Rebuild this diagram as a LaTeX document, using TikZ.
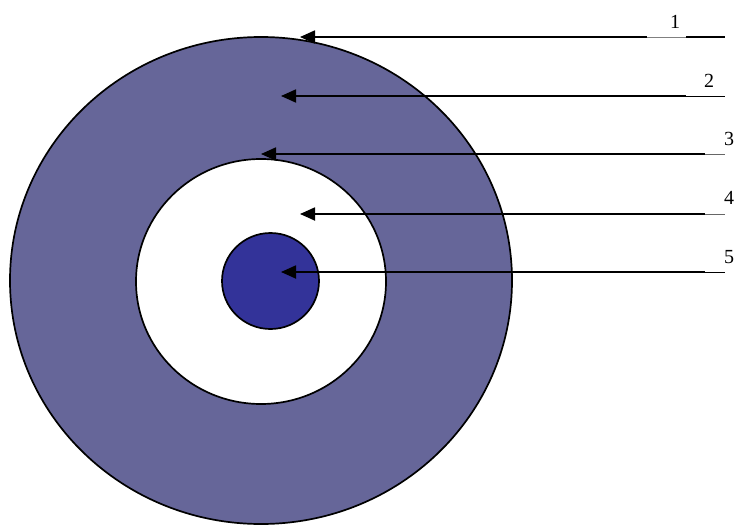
\documentclass[tikz,border=0pt]{standalone}
\usepackage{fontspec}
\setmainfont{Liberation Serif}
\usetikzlibrary{arrows.meta}
\definecolor{outerc}{HTML}{666699}
\definecolor{corec}{HTML}{333399}
\begin{document}
\begin{tikzpicture}[x=1pt,y=-1pt,
  ring/.style={draw=black,line width=1.7pt},
  pointer/.style={line width=1.8pt,-{Triangle[length=15pt,width=13pt]}},
  leader/.style={line width=0.9pt},
  numlabel/.style={font=\fontsize{20}{20}\selectfont,inner sep=0pt,anchor=base}]
\useasboundingbox (0,0) rectangle (734,525);
\fill[outerc,ring] (261,280.5) ellipse [x radius=251,y radius=243.5];
\fill[white,ring] (261,281.5) ellipse [x radius=125,y radius=122.5];
\fill[corec,ring] (270.5,281) ellipse [x radius=48.5,y radius=48];
% coordinates
\coordinate (s1) at (647,37);   \coordinate (t1) at (300,37);
\coordinate (s2) at (686,96);   \coordinate (t2) at (281,96);
\coordinate (s3) at (705,154);  \coordinate (t3) at (261,154);
\coordinate (s4) at (705,214);  \coordinate (t4) at (300,214);
\coordinate (s5) at (705,272);  \coordinate (t5) at (281,272);
\coordinate (m1) at (686,37);   \coordinate (e1) at (725,37);
\coordinate (e2) at (725,96);
\coordinate (e3) at (725,154);
\coordinate (e4) at (725,214);
\coordinate (e5) at (725,272);
\draw[pointer] (s1) -- (t1);
\draw[pointer] (s2) -- (t2);
\draw[pointer] (s3) -- (t3);
\draw[pointer] (s4) -- (t4);
\draw[pointer] (s5) -- (t5);
\draw[leader,gray] (s1) -- (m1);
\draw[line width=1.8pt] (m1) -- (e1);
\draw[leader] (s2) -- (e2);
\draw[leader,gray!80!black] (s3) -- (e3);
\draw[leader,gray!80!black] (s4) -- (e4);
\draw[leader] (s5) -- (e5);
\node[numlabel] (n1) at (675,28) {1};
\node[numlabel] (n2) at (709,87) {2};
\node[numlabel] (n3) at (729,145) {3};
\node[numlabel] (n4) at (729,204) {4};
\node[numlabel] (n5) at (729,263) {5};
\end{tikzpicture}
\end{document}
